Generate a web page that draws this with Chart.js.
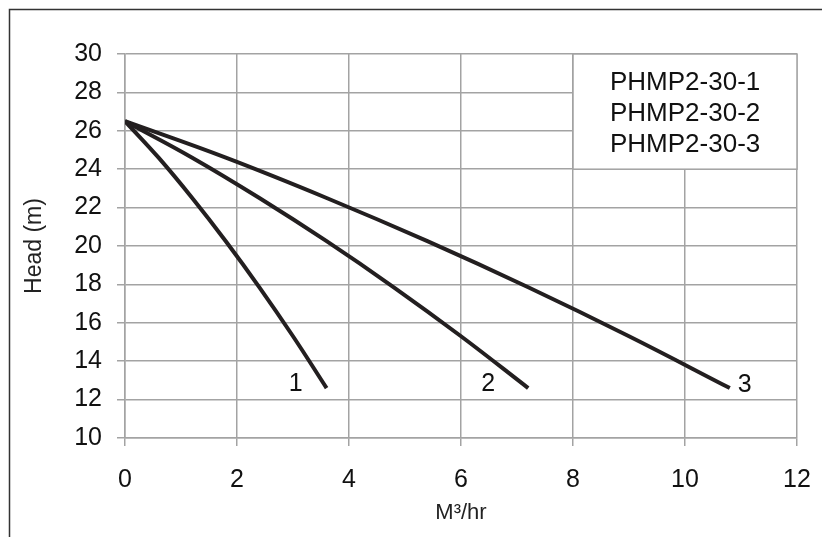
<!DOCTYPE html>
<html>
<head>
<meta charset="utf-8">
<script src="https://cdn.jsdelivr.net/npm/chart.js@4.4.1/dist/chart.umd.min.js"></script>
<style>
  html, body { margin: 0; padding: 0; background: #ffffff; }
  #wrap { width: 822px; height: 537px; position: relative; }
</style>
</head>
<body>
<div id="wrap"><canvas id="c" width="822" height="537"></canvas></div>
<script>
// ---- data ----
const flow1 = [0, 0.6, 1.2, 1.8, 2.4, 3.0, 3.6];
const head1 = [26.5, 24.6, 22.5, 20.25, 17.85, 15.3, 12.6];
const flow2 = [0, 1.2, 2.4, 3.6, 4.8, 6.0, 7.2];
const head2 = [26.5, 24.6, 22.5, 20.25, 17.85, 15.3, 12.6];
const flow3 = [0, 1.8, 3.6, 5.4, 7.2, 9.0, 10.8];
const head3 = [26.5, 24.6, 22.5, 20.25, 17.85, 15.3, 12.6];
const curveLabels = ['1', '2', '3'];
const legendLines = ['PHMP2-30-1', 'PHMP2-30-2', 'PHMP2-30-3'];
const xTitle = 'M\u00B3/hr';
const yTitle = 'Head (m)';
const xMin = 0, xMax = 12, xStep = 2;
const yMin = 10, yMax = 30, yStep = 2;

const FONT = '"Liberation Sans", Arial, sans-serif';
const GRID = '#a3a3a3';
const INK = '#231f20';

function pts(xs, ys) { return xs.map((x, i) => ({ x: x, y: ys[i] })); }

const labelOffsets = [[-31, -4], [-40, -4], [15, -3]];

const overlay = {
  id: 'overlay',
  beforeDatasetsDraw(chart) {
    const ctx = chart.ctx;
    const xs = chart.scales.x, ys = chart.scales.y;
    const l = xs.getPixelForValue(8), r = xs.getPixelForValue(12);
    const t = ys.getPixelForValue(30), b = ys.getPixelForValue(24);
    ctx.save();
    ctx.fillStyle = '#ffffff';
    ctx.fillRect(l, t, r - l, b - t);
    ctx.strokeStyle = GRID;
    ctx.lineWidth = 1.5;
    ctx.strokeRect(l, t, r - l, b - t);
    ctx.fillStyle = '#111111';
    ctx.font = '26px ' + FONT;
    ctx.textAlign = 'left';
    ctx.textBaseline = 'middle';
    legendLines.forEach((s, i) => ctx.fillText(s, l + 37, t + 29 + i * 31));
    ctx.restore();
  },
  afterDraw(chart) {
    const ctx = chart.ctx;
    ctx.save();
    ctx.fillStyle = '#111111';
    ctx.font = '25px ' + FONT;
    ctx.textAlign = 'center';
    ctx.textBaseline = 'middle';
    chart.data.datasets.forEach((ds, i) => {
      const meta = chart.getDatasetMeta(i);
      const last = meta.data[meta.data.length - 1];
      ctx.fillText(curveLabels[i], last.x + labelOffsets[i][0], last.y + labelOffsets[i][1]);
    });
    ctx.strokeStyle = '#333333';
    ctx.lineWidth = 1.5;
    ctx.beginPath();
    ctx.moveTo(9.5, 540);
    ctx.lineTo(9.5, 9.5);
    ctx.lineTo(830, 9.5);
    ctx.stroke();
    ctx.restore();
  }
};

const lineStyle = {
  borderColor: INK,
  borderWidth: 4,
  pointRadius: 0,
  fill: false,
  tension: 0.4
};

new Chart(document.getElementById('c'), {
  type: 'scatter',
  data: {
    datasets: [
      Object.assign({ label: legendLines[0], data: pts(flow1, head1), showLine: true }, lineStyle),
      Object.assign({ label: legendLines[1], data: pts(flow2, head2), showLine: true }, lineStyle),
      Object.assign({ label: legendLines[2], data: pts(flow3, head3), showLine: true }, lineStyle)
    ]
  },
  options: {
    responsive: false,
    animation: false,
    layout: { padding: { top: 54, right: 25, left: 0, bottom: 0 } },
    plugins: { legend: { display: false }, tooltip: { enabled: false } },
    scales: {
      x: {
        type: 'linear',
        min: xMin, max: xMax,
        ticks: { stepSize: xStep, color: '#111111', font: { family: FONT, size: 25 }, padding: 19, maxRotation: 0 },
        grid: { color: GRID, lineWidth: 1.5, tickLength: 8, drawTicks: true },
        border: { color: GRID, width: 1.5 },
        title: { display: true, text: xTitle, color: '#222222', font: { family: FONT, size: 22 }, padding: { top: 0, bottom: 11 } },
        afterFit(scale) { scale.height = 99; scale.paddingRight = 0; scale.paddingLeft = 0; }
      },
      y: {
        type: 'linear',
        min: yMin, max: yMax,
        ticks: { stepSize: yStep, color: '#111111', font: { family: FONT, size: 25 }, padding: 15 },
        grid: { color: GRID, lineWidth: 1.5, tickLength: 8, drawTicks: true },
        border: { color: GRID, width: 1.5 },
        title: { display: true, text: yTitle, color: '#222222', font: { family: FONT, size: 23 }, padding: { top: 21, bottom: 0 } },
        afterFit(scale) { scale.width = 125; scale.paddingTop = 0; scale.paddingBottom = 0; }
      }
    }
  },
  plugins: [overlay]
});
</script>
</body>
</html>
